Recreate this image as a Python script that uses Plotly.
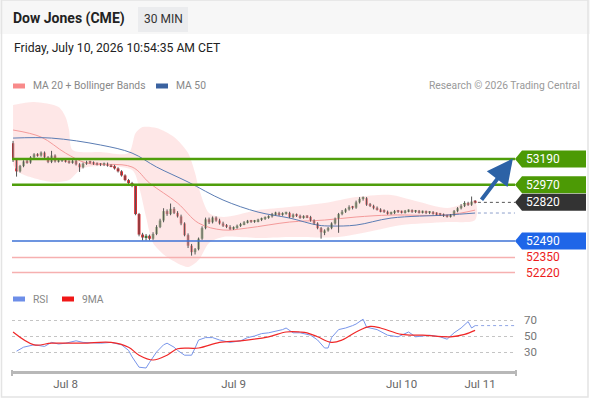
import plotly.graph_objects as go

# -----------------------------
# Data (30 min bars, index 0 = Jul 7 16:30 ... 132 = Jul 10 10:30)
# -----------------------------
OPEN = [
    53325, 53185, 53085, 53130, 53170, 53160, 53205, 53230, 53220, 53245,
    53205, 53165, 53220, 53170, 53175, 53180, 53170, 53160, 53175, 53145,
    53120, 53150, 53165, 53160, 53150, 53145, 53140, 53150, 53135, 53130,
    53110, 53085, 53050, 53010, 52985, 52960, 52720, 52545, 52520, 52535,
    52510, 52550, 52610, 52665, 52745, 52720, 52765, 52730, 52700, 52640,
    52540, 52450, 52395, 52420, 52510, 52600, 52675, 52650, 52690, 52665,
    52640, 52620, 52610, 52595, 52605, 52620, 52635, 52650, 52660, 52655,
    52660, 52670, 52680, 52690, 52700, 52720, 52730, 52715, 52725, 52730,
    52695, 52715, 52705, 52690, 52700, 52695, 52665, 52640, 52600, 52565,
    52580, 52600, 52640, 52680, 52720, 52740, 52760, 52780, 52775, 52820,
    52850, 52855, 52800, 52790, 52770, 52760, 52745, 52740, 52725, 52730,
    52745, 52740, 52735, 52745, 52750, 52740, 52745, 52735, 52740, 52730,
    52735, 52725, 52720, 52715, 52705, 52700, 52710, 52745, 52770, 52790,
    52815, 52800, 52825,
]
HIGH = [
    53345, 53195, 53140, 53180, 53185, 53215, 53240, 53240, 53255, 53255,
    53215, 53260, 53230, 53190, 53195, 53190, 53180, 53190, 53185, 53155,
    53160, 53175, 53175, 53170, 53160, 53155, 53160, 53160, 53145, 53140,
    53120, 53095, 53060, 53020, 52995, 52975, 52730, 52560, 52550, 52545,
    52565, 52625, 52680, 52770, 52760, 52810, 52780, 52745, 52715, 52650,
    52555, 52465, 52430, 52520, 52615, 52690, 52690, 52700, 52700, 52680,
    52655, 52635, 52625, 52615, 52630, 52645, 52660, 52670, 52670, 52670,
    52680, 52690, 52700, 52710, 52730, 52740, 52740, 52735, 52740, 52740,
    52725, 52725, 52715, 52710, 52710, 52705, 52675, 52650, 52610, 52590,
    52610, 52650, 52690, 52730, 52755, 52770, 52795, 52790, 52835, 52865,
    52870, 52865, 52815, 52800, 52785, 52770, 52760, 52750, 52740, 52755,
    52755, 52750, 52755, 52760, 52760, 52755, 52755, 52750, 52750, 52745,
    52745, 52735, 52730, 52725, 52715, 52720, 52755, 52780, 52805, 52830,
    52825, 52870, 52840,
]
LOW = [
    53165, 53040, 53075, 53120, 53150, 53150, 53195, 53210, 53210, 53195,
    53155, 53155, 53160, 53160, 53165, 53160, 53150, 53150, 53135, 53080,
    53110, 53140, 53150, 53140, 53135, 53130, 53130, 53125, 53120, 53100,
    53075, 53040, 53000, 52975, 52950, 52710, 52530, 52495, 52495, 52495,
    52500, 52540, 52600, 52650, 52705, 52710, 52720, 52690, 52625, 52530,
    52430, 52365, 52375, 52410, 52500, 52590, 52635, 52640, 52655, 52630,
    52610, 52600, 52585, 52585, 52595, 52610, 52625, 52640, 52645, 52645,
    52650, 52660, 52670, 52680, 52690, 52710, 52705, 52705, 52715, 52685,
    52685, 52695, 52680, 52680, 52685, 52655, 52630, 52590, 52510, 52540,
    52570, 52590, 52630, 52560, 52710, 52730, 52750, 52760, 52765, 52810,
    52835, 52790, 52780, 52760, 52750, 52735, 52730, 52715, 52715, 52720,
    52730, 52725, 52725, 52735, 52730, 52730, 52725, 52725, 52720, 52720,
    52715, 52710, 52705, 52695, 52690, 52690, 52700, 52735, 52760, 52780,
    52790, 52790, 52810,
]
CLOSE = [
    53185, 53085, 53130, 53170, 53160, 53205, 53230, 53220, 53245, 53205,
    53165, 53220, 53170, 53175, 53180, 53170, 53160, 53175, 53145, 53120,
    53150, 53165, 53160, 53150, 53145, 53140, 53150, 53135, 53130, 53110,
    53085, 53050, 53010, 52985, 52960, 52720, 52545, 52520, 52535, 52510,
    52550, 52610, 52665, 52745, 52720, 52765, 52730, 52700, 52640, 52540,
    52450, 52395, 52420, 52510, 52600, 52675, 52650, 52690, 52665, 52640,
    52620, 52610, 52595, 52605, 52620, 52635, 52650, 52660, 52655, 52660,
    52670, 52680, 52690, 52700, 52720, 52730, 52715, 52725, 52730, 52695,
    52715, 52705, 52690, 52700, 52695, 52665, 52640, 52600, 52565, 52580,
    52600, 52640, 52680, 52720, 52740, 52760, 52780, 52775, 52820, 52850,
    52855, 52800, 52790, 52770, 52760, 52745, 52740, 52725, 52730, 52745,
    52740, 52735, 52745, 52750, 52740, 52745, 52735, 52740, 52730, 52735,
    52725, 52720, 52715, 52705, 52700, 52710, 52745, 52770, 52790, 52815,
    52800, 52825, 52820,
]
BARS = list(range(len(CLOSE)))

# indicators, read at a few bars
MA20_X = [0, 8, 15, 21, 34, 39, 47, 53, 60, 67, 79, 89, 98, 108, 124, 132]
MA20 = [53438, 53378, 53241, 53156, 53122, 52985, 52814, 52643, 52584, 52601,
        52652, 52669, 52695, 52712, 52712, 52754]

BB_UP_X = [0, 6, 13, 15, 16, 17, 25, 33, 35, 37, 41, 46, 50, 52, 53, 56,
           60, 70, 79, 89, 98, 108, 114, 124, 132]
BB_UP = [53651, 53677, 53634, 53549, 53438, 53267, 53250, 53241, 53412, 53463,
         53455, 53378, 53241, 53070, 52950, 52729, 52695, 52754, 52780, 52814,
         52865, 52883, 52840, 52772, 52823]
BB_LO_X = [0, 2, 11, 16, 20, 34, 36, 38, 40, 44, 50, 53, 56, 60, 70, 79,
           93, 104, 111, 124, 132]
BB_LO = [53139, 53070, 52994, 53011, 53113, 53096, 52951, 52695, 52473, 52353,
         52268, 52327, 52473, 52524, 52515, 52524, 52524, 52584, 52626, 52652,
         52669]

MA50_X = [0, 11, 25, 34, 41, 50, 60, 70, 79, 87, 91, 98, 108, 124, 132]
MA50 = [53369, 53369, 53310, 53241, 53122, 52994, 52840, 52737, 52686, 52626,
        52618, 52626, 52686, 52712, 52729]

RSI_X = [1, 3, 6, 9, 11, 13, 15, 18, 20, 23, 25, 28, 31, 33, 34, 36, 38, 39,
         40, 41, 43, 44, 46, 47, 49, 51, 52, 53, 55, 57, 59, 62, 65, 67, 69,
         71, 73, 75, 77, 78, 80, 82, 83, 85, 87, 89, 90, 91, 93, 95, 97, 98,
         100, 101, 104, 107, 110, 113, 115, 118, 119, 122, 124, 126, 128, 130,
         131, 132]
RSI = [31, 36, 39, 37, 42, 40, 41, 44, 42, 41, 41, 42, 39, 32, 24, 11, 10, 17,
       24, 30, 39, 41, 36, 32, 26, 26, 35, 45, 48, 48, 45, 42, 44, 48, 50,
       53, 54, 56, 58, 60, 54, 54, 53, 51, 45, 35, 35, 48, 58, 60, 63, 65,
       71, 61, 58, 51, 49, 55, 49, 51, 51, 49, 46, 54, 60, 68, 60, 63]
RSI_MA_X = [0, 6, 11, 20, 28, 33, 36, 40, 44, 47, 53, 59, 65, 73, 78, 82, 84,
            87, 91, 94, 98, 102, 105, 111, 117, 125, 129, 132]
RSI_MA = [55, 39, 41, 41, 42, 36, 26, 20, 26, 34, 35, 42, 44, 49, 55, 55, 54,
          49, 42, 45, 55, 62, 60, 52, 51, 49, 52, 57]

RESISTANCES = [53190, 52970]
LAST_PRICE = 52820
PIVOT = 52490
SUPPORTS = [52350, 52220]
TARGET = 53190

TICK_X = [15, 63, 111, 133.4]
TICK_TEXT = ["Jul 8", "Jul 9", "Jul 10", "Jul 11"]
RSI_LEVELS = [30, 50, 70]

# -----------------------------
# Layout helpers (pixel -> paper)
# -----------------------------
W, H = 590, 400
ML, MR = 12, 75
PW = W - ML - MR
FONT = "Roboto, Liberation Sans, Arial, sans-serif"
X_RANGE = [-0.3, 143.4]


def px(x):
    return (x - ML) / PW


def py(y):
    return (H - y) / H


fig = go.Figure()

# bollinger band + moving averages
fig.add_trace(go.Scatter(
    x=BB_UP_X + BB_LO_X[::-1], y=BB_UP + BB_LO[::-1],
    fill="toself", fillcolor="rgba(253,215,215,0.6)",
    line=dict(width=0, shape="spline", smoothing=0.8),
    mode="lines", hoverinfo="skip", xaxis="x", yaxis="y",
))
fig.add_trace(go.Scatter(
    x=MA20_X, y=MA20, mode="lines",
    line=dict(color="#f49a9a", width=1, shape="spline"),
    xaxis="x", yaxis="y",
))
fig.add_trace(go.Scatter(
    x=MA50_X, y=MA50, mode="lines",
    line=dict(color="#5b7db4", width=1, shape="spline"),
    xaxis="x", yaxis="y",
))

# candles: dark wicks, coloured bodies
wick_x, wick_y = [], []
for i, (h, l) in enumerate(zip(HIGH, LOW)):
    wick_x += [i, i, None]
    wick_y += [l, h, None]
fig.add_trace(go.Scatter(
    x=wick_x, y=wick_y, mode="lines",
    line=dict(color="#555555", width=1), xaxis="x", yaxis="y",
))
body_base = [min(o, c) for o, c in zip(OPEN, CLOSE)]
body_size = [max(abs(c - o), 14) for o, c in zip(OPEN, CLOSE)]
body_col = ["#3a8a34" if c >= o else "#df2228" for o, c in zip(OPEN, CLOSE)]
fig.add_trace(go.Bar(
    x=BARS, y=body_size, base=body_base, width=0.8,
    marker=dict(color=body_col, line=dict(width=0)),
    xaxis="x", yaxis="y",
))

# RSI panel
fig.add_trace(go.Scatter(
    x=RSI_X, y=RSI, mode="lines",
    line=dict(color="#7895ea", width=1),
    xaxis="x2", yaxis="y2",
))
fig.add_trace(go.Scatter(
    x=RSI_MA_X, y=RSI_MA, mode="lines",
    line=dict(color="#f02828", width=1.2, shape="spline"),
    xaxis="x2", yaxis="y2",
))

shapes = []
annotations = []

# header band and frame
shapes.append(dict(type="rect", xref="paper", yref="paper",
                   x0=px(0), x1=px(W), y0=py(34), y1=py(0),
                   fillcolor="#f7f7f7", line=dict(width=0), layer="below"))
shapes.append(dict(type="rect", xref="paper", yref="paper",
                   x0=px(138), x1=px(188), y0=py(32), y1=py(7),
                   fillcolor="#ebecee", line=dict(width=0), layer="below"))
shapes.append(dict(type="rect", xref="paper", yref="paper",
                   x0=px(1.5), x1=px(588), y0=py(397), y1=py(0),
                   line=dict(color="#e4e4e4", width=1.5)))

# horizontal levels
for lvl in RESISTANCES:
    shapes.append(dict(type="line", xref="paper", yref="y", x0=0, x1=1,
                       y0=lvl, y1=lvl, line=dict(color="#4f9e0b", width=2.5)))
shapes.append(dict(type="line", xref="paper", yref="y", x0=0, x1=1,
                   y0=PIVOT, y1=PIVOT, line=dict(color="#3d72d6", width=1.3)))
for lvl in SUPPORTS:
    shapes.append(dict(type="line", xref="paper", yref="y", x0=0, x1=1,
                       y0=lvl, y1=lvl, line=dict(color="#f6b0b0", width=1.5)))

# dotted extensions after the last bar
shapes.append(dict(type="line", xref="x", yref="y", x0=BARS[-1] + 0.8, x1=X_RANGE[1],
                   y0=LAST_PRICE, y1=LAST_PRICE,
                   line=dict(color="#555555", width=1, dash="dot")))
shapes.append(dict(type="line", xref="x", yref="y", x0=BARS[-1] + 0.8, x1=X_RANGE[1],
                   y0=MA50[-1], y1=MA50[-1],
                   line=dict(color="#8ea0cc", width=1, dash="dot")))
shapes.append(dict(type="line", xref="x2", yref="y2", x0=RSI_X[-1], x1=X_RANGE[1],
                   y0=RSI[-1], y1=RSI[-1],
                   line=dict(color="#8fa5e6", width=1, dash="dot")))

# price tags on the right
tags = [(RESISTANCES[0], "#4c9a05"), (RESISTANCES[1], "#4c9a05"),
        (LAST_PRICE, "#333333"), (PIVOT, "#1f66e8")]
for lvl, col in tags:
    shapes.append(dict(type="path", xref="paper", yref="y",
                       xsizemode="pixel", ysizemode="pixel",
                       xanchor=1, yanchor=lvl,
                       path="M0,0 L7,8.5 L71,8.5 L71,-8.5 L7,-8.5 Z",
                       fillcolor=col, line=dict(width=0)))
    annotations.append(dict(xref="paper", yref="y", x=1, y=lvl, xshift=9,
                            xanchor="left", yanchor="middle", showarrow=False,
                            text=str(lvl), font=dict(color="white", size=12)))
for lvl in SUPPORTS:
    annotations.append(dict(xref="paper", yref="y", x=1, y=lvl, xshift=9,
                            xanchor="left", yanchor="middle", showarrow=False,
                            text=str(lvl), font=dict(color="#ec1c1c", size=12)))

# forecast arrow
annotations.append(dict(xref="x", yref="y", x=142.8, y=TARGET + 5,
                        axref="x", ayref="y", ax=BARS[-1] + 1.5, ay=LAST_PRICE + 10,
                        showarrow=True, arrowhead=2, arrowsize=1.3, arrowwidth=4,
                        arrowcolor="#2c62a6", text=""))

# x axis end ticks
for xe in (12, 516):
    shapes.append(dict(type="line", xref="paper", yref="paper",
                       x0=px(xe), x1=px(xe), y0=py(370), y1=py(376),
                       line=dict(color="#b8b8b8", width=2)))

# legend swatches
for x0, x1, y, col in [(13, 25, 86, "#f88a8a"), (156, 168, 86, "#3a62a0"),
                       (13, 25, 299, "#6d8ee8"), (62, 74, 299, "#f01818")]:
    shapes.append(dict(type="rect", xref="paper", yref="paper",
                       x0=px(x0), x1=px(x1), y0=py(y + 2.5), y1=py(y - 2.5),
                       fillcolor=col, line=dict(width=0)))

texts = [
    ("<b>Dow Jones (CME)</b>", 11, 19, "left", 14, "#222222"),
    ("30 MIN", 163, 19, "center", 12, "#333333"),
    ("Friday, July 10, 2026 10:54:35 AM CET", 12, 48, "left", 12.2, "#222222"),
    ("MA 20 + Bollinger Bands", 31, 86, "left", 10.3, "#888888"),
    ("MA 50", 174, 86, "left", 10.3, "#888888"),
    ("Research © 2026 Trading Central", 582, 86, "right", 10.3, "#999999"),
    ("RSI", 31, 299, "left", 10.3, "#888888"),
    ("9MA", 80, 299, "left", 10.3, "#888888"),
]
for txt, x, y, anchor, size, col in texts:
    annotations.append(dict(xref="paper", yref="paper", x=px(x), y=py(y),
                            xanchor=anchor, yanchor="middle", showarrow=False,
                            text=txt, font=dict(size=size, color=col)))

fig.update_layout(
    width=W, height=H,
    margin=dict(l=ML, r=MR, t=0, b=0),
    paper_bgcolor="white", plot_bgcolor="white",
    showlegend=False,
    font=dict(family=FONT),
    shapes=shapes,
    annotations=annotations,
    xaxis=dict(range=X_RANGE, visible=False, rangeslider=dict(visible=False),
               anchor="y"),
    yaxis=dict(domain=[py(280), py(95)], range=[52157, 53737], visible=False,
               anchor="x"),
    xaxis2=dict(range=X_RANGE, anchor="y2", matches="x", showgrid=False,
                zeroline=False, showline=True, linecolor="#b8b8b8", linewidth=2.5,
                tickvals=TICK_X, ticktext=TICK_TEXT, ticks="",
                tickfont=dict(size=11.5, color="#666666")),
    yaxis2=dict(domain=[py(371), py(305)], range=[6.25, 88.75], anchor="x2",
                side="right", tickvals=RSI_LEVELS, showgrid=True, griddash="dot",
                gridcolor="#c4c4c4", gridwidth=1, zeroline=False, showline=False,
                ticks="", ticklabelstandoff=8,
                tickfont=dict(size=11.5, color="#777777")),
)

fig.write_html("out.html", config={"displayModeBar": False},
               post_script="document.body.style.margin='0';")
